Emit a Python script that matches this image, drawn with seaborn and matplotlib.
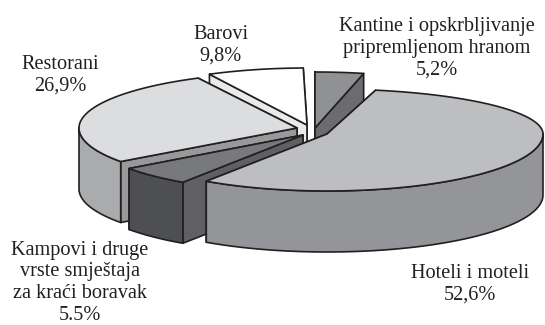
import numpy as np
import matplotlib
matplotlib.use("Agg")
import matplotlib.pyplot as plt
from matplotlib.patches import Polygon
import seaborn as sns

# Data (shares in %), clockwise from the top
categories = ["Kantine i opskrbljivanje\npripremljenom hranom", "Hoteli i moteli",
              "Kampovi i druge\nvrste smještaja\nza kraći boravak", "Restorani", "Barovi"]
shares = [5.2, 52.6, 5.5, 26.9, 9.8]
share_labels = ["5,2%", "52,6%", "5.5%", "26,9%", "9,8%"]

# Styles / layout
top_colors = ["#8f9194", "#bcbec0", "#77797c", "#dcddde", "#ffffff"]
outer_colors = ["#77797c", "#939598", "#4d4f52", "#a9abad", "#e9eaeb"]
radial_colors = ["#6a6c6f", "#939598", "#5e6063", "#97999b", "#e9eaeb"]
apex_x = [315, 327, 303, 297, 307]
apex_y = [128, 134, 135, 128, 125]
back_ry = [56, 45, 56, 56, 57]
front_ry = [57, 57, 57, 57, 57]
rx = [216, 216, 215, 218, 215]
draw_order = [0, 4, 3, 2, 1]
label_x = [437, 470, 80, 60, 221]
label_y = [75, 300, 320, 91, 61]
# perspective warp: true clockwise angle -> apparent clockwise angle
warp_in = [0, 18.7, 208.1, 227.9, 324.7, 360]
warp_out = [0, 13, 214, 234, 333, 359]
START = 90.0
DEPTH = 61
EDGE = "#231f20"

sns.set_theme(style="white")
plt.rcParams["font.family"] = ["Liberation Serif", "DejaVu Serif"]

fig = plt.figure(figsize=(5.45, 3.25), dpi=100)
ax = fig.add_axes([0, 0, 1, 1])
ax.set_xlim(0, 545)
ax.set_ylim(325, 0)
ax.axis("off")

cum = np.concatenate([[0], np.cumsum(shares)]) / np.sum(shares) * 360


def rim(i, n=80):
    a = np.interp(cum[i], warp_in, warp_out)
    b = np.interp(cum[i + 1], warp_in, warp_out)
    th = np.radians(START - np.linspace(a, b, n))
    s = np.sin(th)
    ry = np.where(s > 0, back_ry[i], front_ry[i])
    return apex_x[i] + rx[i] * np.cos(th), apex_y[i] - ry * s


def poly(x, y, c, z):
    ax.add_patch(Polygon(np.column_stack([x, y]), closed=True, facecolor=c,
                         edgecolor=EDGE, linewidth=1.2, joinstyle="round", zorder=z))


for z, i in enumerate(draw_order):
    x, y = rim(i)
    ax_, ay_ = apex_x[i], apex_y[i]
    base = z * 10
    # radial walls, the one nearer the viewer last
    ends = sorted([(y[0], x[0]), (y[-1], x[-1])])
    for py, px in ends:
        poly([ax_, px, px, ax_], [ay_, py, py + DEPTH, ay_ + DEPTH], radial_colors[i], base + 1)
    # outer wall
    front = y >= ay_ - 1
    if front.any():
        fx, fy = x[front], y[front]
        poly(np.r_[fx, fx[::-1]], np.r_[fy, fy[::-1] + DEPTH], outer_colors[i], base + 2)
    # top
    poly(np.r_[ax_, x], np.r_[ay_, y], top_colors[i], base + 3)

for c, s, lx, ly in zip(categories, share_labels, label_x, label_y):
    ax.text(lx, ly, c + "\n" + s, ha="center", va="baseline", fontsize=14.6,
            color="#231f20", linespacing=1.2, zorder=100)

fig.savefig("out.png", dpi=100)
